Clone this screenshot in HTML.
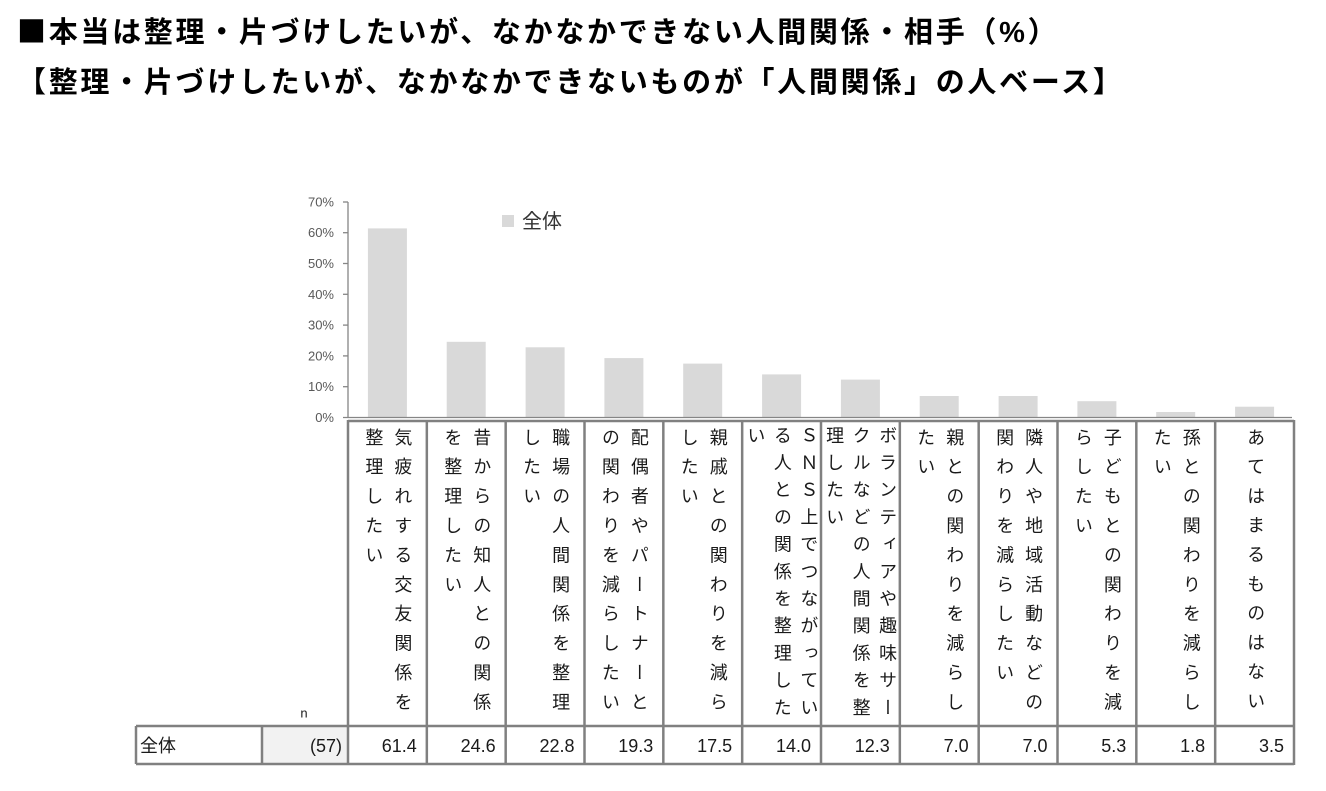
<!DOCTYPE html>
<html>
<head>
<meta charset="utf-8">
<style>
  html,body{margin:0;padding:0;background:#fff;}
  body{width:1326px;height:791px;position:relative;overflow:hidden;}
  .title{position:absolute;left:17px;font-weight:bold;font-size:29px;line-height:29px;letter-spacing:2.7px;white-space:nowrap;color:#000;
    font-family:"Liberation Sans","Noto Sans CJK JP",sans-serif;}
  .sq{font-family:"Noto Sans CJK JP",sans-serif;}
  .v{position:absolute;writing-mode:vertical-rl;text-orientation:upright;font-size:18px;white-space:nowrap;height:300px;color:#1a1a1a;
    font-family:"Liberation Sans","Noto Sans CJK JP",sans-serif;}
  .c2{line-height:29px;letter-spacing:11.4px;top:428px;width:58px;}
  .c3{line-height:26.5px;letter-spacing:9.2px;top:426px;width:79.5px;}
  .c1{line-height:29px;letter-spacing:11.3px;top:428px;width:29px;}
  svg{position:absolute;left:0;top:0;}
</style>
</head>
<body>
<div class="title" style="top:16px;"><span class="sq">■</span>本当は整理・片づけしたいが、なかなかできない人間関係・相手（%）</div>
<div class="title" style="top:69px;">【整理・片づけしたいが、なかなかできないものが「人間関係」の人ベース】</div>

<svg width="1326" height="791" viewBox="0 0 1326 791" xmlns="http://www.w3.org/2000/svg">
  <!-- bars -->
  <g fill="#d9d9d9">
    <rect x="367.9" y="228.4" width="39" height="189.1"/>
    <rect x="446.7" y="341.8" width="39" height="75.7"/>
    <rect x="525.6" y="347.3" width="39" height="70.2"/>
    <rect x="604.4" y="358.1" width="39" height="59.4"/>
    <rect x="683.2" y="363.6" width="39" height="53.9"/>
    <rect x="762.1" y="374.4" width="39" height="43.1"/>
    <rect x="840.9" y="379.6" width="39" height="37.9"/>
    <rect x="919.7" y="396.0" width="39" height="21.5"/>
    <rect x="998.6" y="396.0" width="39" height="21.5"/>
    <rect x="1077.4" y="401.2" width="39" height="16.3"/>
    <rect x="1156.2" y="412.0" width="39" height="5.5"/>
    <rect x="1235.1" y="406.7" width="39" height="10.8"/>
  </g>
  <!-- axes -->
  <g stroke="#868686" stroke-width="1.3" fill="none">
    <line x1="348" y1="202" x2="348" y2="417.5"/>
    <line x1="343" y1="417.5" x2="1292" y2="417.5"/>
    <line x1="343" y1="202" x2="348" y2="202"/>
    <line x1="343" y1="232.7" x2="348" y2="232.7"/>
    <line x1="343" y1="263.5" x2="348" y2="263.5"/>
    <line x1="343" y1="294.3" x2="348" y2="294.3"/>
    <line x1="343" y1="325.1" x2="348" y2="325.1"/>
    <line x1="343" y1="355.9" x2="348" y2="355.9"/>
    <line x1="343" y1="386.7" x2="348" y2="386.7"/>
  </g>
  <g font-family="Liberation Sans, sans-serif" font-size="13" fill="#595959" text-anchor="end">
    <text x="334" y="206.5">70%</text>
    <text x="334" y="237.2">60%</text>
    <text x="334" y="268">50%</text>
    <text x="334" y="298.8">40%</text>
    <text x="334" y="329.6">30%</text>
    <text x="334" y="360.4">20%</text>
    <text x="334" y="391.2">10%</text>
    <text x="334" y="422">0%</text>
  </g>
  <!-- legend -->
  <rect x="502" y="215" width="12" height="12" fill="#d9d9d9"/>
  <text x="522" y="228" font-family="Liberation Sans, Noto Sans CJK JP, sans-serif" font-size="20" fill="#333">全体</text>

  <!-- table -->
  <rect x="262" y="726" width="86" height="38" fill="#f2f2f2"/>
  <g stroke="#808080" stroke-width="2.5" fill="none">
    <line x1="348" y1="421" x2="1294" y2="421"/>
    <line x1="136" y1="726" x2="1294" y2="726"/>
    <line x1="136" y1="764" x2="1294" y2="764"/>
    <line x1="136" y1="726" x2="136" y2="764"/>
    <line x1="262" y1="726" x2="262" y2="764"/>
    <line x1="348" y1="420" x2="348" y2="765"/>
    <line x1="426.83" y1="420" x2="426.83" y2="765"/>
    <line x1="505.67" y1="420" x2="505.67" y2="765"/>
    <line x1="584.5" y1="420" x2="584.5" y2="765"/>
    <line x1="663.33" y1="420" x2="663.33" y2="765"/>
    <line x1="742.17" y1="420" x2="742.17" y2="765"/>
    <line x1="821" y1="420" x2="821" y2="765"/>
    <line x1="899.83" y1="420" x2="899.83" y2="765"/>
    <line x1="978.67" y1="420" x2="978.67" y2="765"/>
    <line x1="1057.5" y1="420" x2="1057.5" y2="765"/>
    <line x1="1136.33" y1="420" x2="1136.33" y2="765"/>
    <line x1="1215.17" y1="420" x2="1215.17" y2="765"/>
    <line x1="1294" y1="420" x2="1294" y2="765"/>
  </g>
  <text x="304" y="717.5" text-anchor="middle" font-family="Liberation Sans, sans-serif" font-size="13" fill="#1a1a1a">n</text>
  <text x="140" y="752" font-family="Liberation Sans, Noto Sans CJK JP, sans-serif" font-size="18" fill="#1a1a1a">全体</text>
  <g font-family="Liberation Sans, sans-serif" font-size="18" fill="#1a1a1a" text-anchor="end">
    <text x="342" y="752">(57)</text>
    <text x="416.8" y="752">61.4</text>
    <text x="495.7" y="752">24.6</text>
    <text x="574.5" y="752">22.8</text>
    <text x="653.3" y="752">19.3</text>
    <text x="732.2" y="752">17.5</text>
    <text x="811" y="752">14.0</text>
    <text x="889.8" y="752">12.3</text>
    <text x="968.7" y="752">7.0</text>
    <text x="1047.5" y="752">7.0</text>
    <text x="1126.3" y="752">5.3</text>
    <text x="1205.2" y="752">1.8</text>
    <text x="1284" y="752">3.5</text>
  </g>
</svg>

<div class="v c2" style="left:358.4px;">気疲れする交友関係を<br>整理したい</div>
<div class="v c2" style="left:437.2px;">昔からの知人との関係<br>を整理したい</div>
<div class="v c2" style="left:516.1px;">職場の人間関係を整理<br>したい</div>
<div class="v c2" style="left:594.9px;">配偶者やパートナーと<br>の関わりを減らしたい</div>
<div class="v c2" style="left:673.7px;">親戚との関わりを減ら<br>したい</div>
<div class="v c3" style="left:741.85px;">ＳＮＳ上でつながってい<br>る人との関係を整理した<br>い</div>
<div class="v c3" style="left:820.65px;">ボランティアや趣味サー<br>クルなどの人間関係を整<br>理したい</div>
<div class="v c2" style="left:910.2px;">親との関わりを減らし<br>たい</div>
<div class="v c2" style="left:989.1px;">隣人や地域活動などの<br>関わりを減らしたい</div>
<div class="v c2" style="left:1067.9px;">子どもとの関わりを減<br>らしたい</div>
<div class="v c2" style="left:1146.7px;">孫との関わりを減らし<br>たい</div>
<div class="v c1" style="left:1240.1px;">あてはまるものはない</div>
</body>
</html>
